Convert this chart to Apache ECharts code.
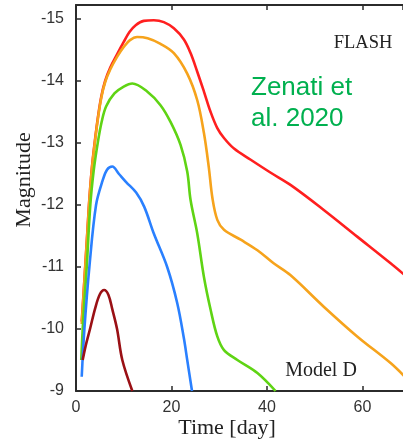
<!DOCTYPE html>
<html>
<head>
<meta charset="utf-8">
<script src="https://cdn.jsdelivr.net/npm/echarts@6/dist/echarts.min.js"></script>
<style>
  html, body { margin: 0; padding: 0; background: #ffffff; }
  #chart { width: 403px; height: 440px; }
</style>
</head>
<body>
<div id="chart"></div>
<script>
// Light curves, absolute magnitude vs. time since merger (days)
const redDays = [1.2, 1.6, 2.0, 2.4, 2.8, 3.3, 3.9, 4.6, 5.3, 6.1, 7.2, 8.6, 10.0, 11.2, 12.5, 14.2, 16.3, 18.4, 20.5, 22.6, 24.0, 25.4, 26.8, 28.2, 29.6, 31.0, 33.1, 36.6, 40.8, 45.0, 51.9, 58.9, 65.9, 69.0];
const redMag  = [-10.12, -10.6, -11.1, -11.6, -12.1, -12.58, -13.0, -13.42, -13.75, -14.0, -14.22, -14.43, -14.63, -14.79, -14.9, -14.97, -14.98, -14.95, -14.85, -14.67, -14.45, -14.15, -13.83, -13.5, -13.24, -13.08, -12.91, -12.73, -12.52, -12.32, -11.92, -11.49, -11.06, -10.86];

const orangeDays = [1.2, 1.6, 2.0, 2.4, 2.8, 3.3, 3.9, 4.6, 5.3, 6.1, 7.2, 8.6, 10.0, 11.3, 12.8, 15.0, 17.7, 20.5, 23.3, 25.4, 26.8, 27.8, 28.6, 29.6, 31.0, 34.5, 38.0, 41.4, 44.9, 51.9, 58.9, 65.9, 69.0];
const orangeMag  = [-10.08, -10.58, -11.08, -11.58, -12.08, -12.56, -12.98, -13.4, -13.73, -13.98, -14.19, -14.39, -14.55, -14.66, -14.71, -14.69, -14.6, -14.45, -14.12, -13.69, -13.16, -12.62, -12.1, -11.76, -11.6, -11.44, -11.27, -11.06, -10.87, -10.36, -9.88, -9.45, -9.22];

const greenDays = [1.1, 1.4, 1.8, 2.25, 3.0, 3.7, 4.55, 5.4, 6.3, 8.05, 10.0, 11.8, 14.9, 17.7, 19.8, 21.9, 23.3, 24.0, 25.4, 26.8, 28.2, 29.6, 31.0, 33.8, 38.0, 41.8];
const greenMag  = [-9.5, -10.0, -10.5, -11.0, -12.0, -12.55, -13.0, -13.35, -13.59, -13.8, -13.91, -13.96, -13.83, -13.61, -13.34, -12.97, -12.54, -12.08, -11.54, -10.84, -10.31, -9.88, -9.66, -9.5, -9.29, -9.0];

const blueDays = [1.2, 1.76, 2.8, 4.2, 5.6, 6.5, 7.6, 9.0, 10.5, 12.6, 14.3, 16.3, 19.1, 21.2, 22.6, 23.3, 24.3];
const blueMag  = [-9.23, -10.0, -11.0, -12.0, -12.4, -12.57, -12.62, -12.5, -12.37, -12.2, -11.97, -11.54, -11.0, -10.42, -9.85, -9.5, -9.0];

const maroonDays = [1.4, 2.0, 3.0, 4.0, 5.0, 5.9, 6.8, 7.6, 8.6, 9.7, 11.8];
const maroonMag  = [-9.5, -9.72, -10.02, -10.33, -10.56, -10.63, -10.55, -10.32, -10.0, -9.5, -9.0];

const xTicks = [0, 20, 40, 60];
const yTicks = [-15, -14, -13, -12, -11, -10, -9];

const zip = (xs, ys) => xs.map((x, i) => [x, ys[i]]);

const axisColor = '#2b2b2b';
const labelFont = { color: '#333', fontSize: 16, fontFamily: 'Liberation Sans, Arial, sans-serif' };

const curve = (name, days, mags, color) => ({
  name, type: 'line', data: zip(days, mags), smooth: 0.35, symbol: 'none',
  lineStyle: { color, width: 2.6 }, clip: true, z: 3
});

const chart = echarts.init(document.getElementById('chart'), null, { renderer: 'canvas' });
chart.setOption({
  animation: false,
  backgroundColor: '#ffffff',
  grid: { left: 76, top: 5, width: 327, height: 386 },
  xAxis: [{
    type: 'value', min: 0, max: 68.5, splitNumber: 4,
    axisLine: { show: true, lineStyle: { color: axisColor, width: 2 } },
    axisTick: { show: true, inside: true, length: 5, lineStyle: { color: axisColor, width: 1.5 } },
    axisLabel: { ...labelFont, margin: 9, showMaxLabel: false,
      formatter: v => xTicks.includes(v) ? String(v) : '' },
    splitLine: { show: false }
  }, {
    type: 'value', position: 'top', min: 0, max: 68.5, splitNumber: 4,
    axisLine: { show: true, onZero: false, lineStyle: { color: axisColor, width: 2 } },
    axisTick: { show: true, inside: true, length: 5, lineStyle: { color: axisColor, width: 1.5 } },
    axisLabel: { show: false },
    splitLine: { show: false }
  }],
  yAxis: {
    type: 'value', inverse: true, min: -15.226, max: -9, splitNumber: 6,
    axisLine: { show: true, onZero: false, lineStyle: { color: axisColor, width: 2 } },
    axisTick: { show: true, inside: true, length: 5, lineStyle: { color: axisColor, width: 1.5 } },
    axisLabel: { ...labelFont, margin: 12, showMinLabel: false,
      formatter: v => yTicks.includes(v) ? String(v) : '' },
    splitLine: { show: false }
  },
  series: [
    curve('Model D red', redDays, redMag, '#ff1f1f'),
    curve('Model D orange', orangeDays, orangeMag, '#f6a31c'),
    curve('Model D green', greenDays, greenMag, '#5fd414'),
    curve('Model D blue', blueDays, blueMag, '#2a80ff'),
    curve('Model D dark red', maroonDays, maroonMag, '#9a1015')
  ],
  graphic: [
    { type: 'text', x: 227, y: 428, style: { text: 'Time [day]', fill: '#222', font: '22px "Liberation Serif", serif', align: 'center', verticalAlign: 'middle' } },
    { type: 'text', x: 24, y: 180, rotation: Math.PI / 2, style: { text: 'Magnitude', fill: '#222', font: '22px "Liberation Serif", serif', align: 'center', verticalAlign: 'middle' } },
    { type: 'text', x: 363, y: 43, style: { text: 'FLASH', fill: '#222', font: '18.5px "Liberation Serif", serif', align: 'center', verticalAlign: 'middle' } },
    { type: 'text', x: 321, y: 371, style: { text: 'Model D', fill: '#222', font: '20px "Liberation Serif", serif', align: 'center', verticalAlign: 'middle' } },
    { type: 'text', left: 251, top: 72, style: { text: 'Zenati et\nal. 2020', fill: '#00b04f', font: '26px "Liberation Sans", Arial, sans-serif', lineHeight: 31 } }
  ]
});
</script>
</body>
</html>
